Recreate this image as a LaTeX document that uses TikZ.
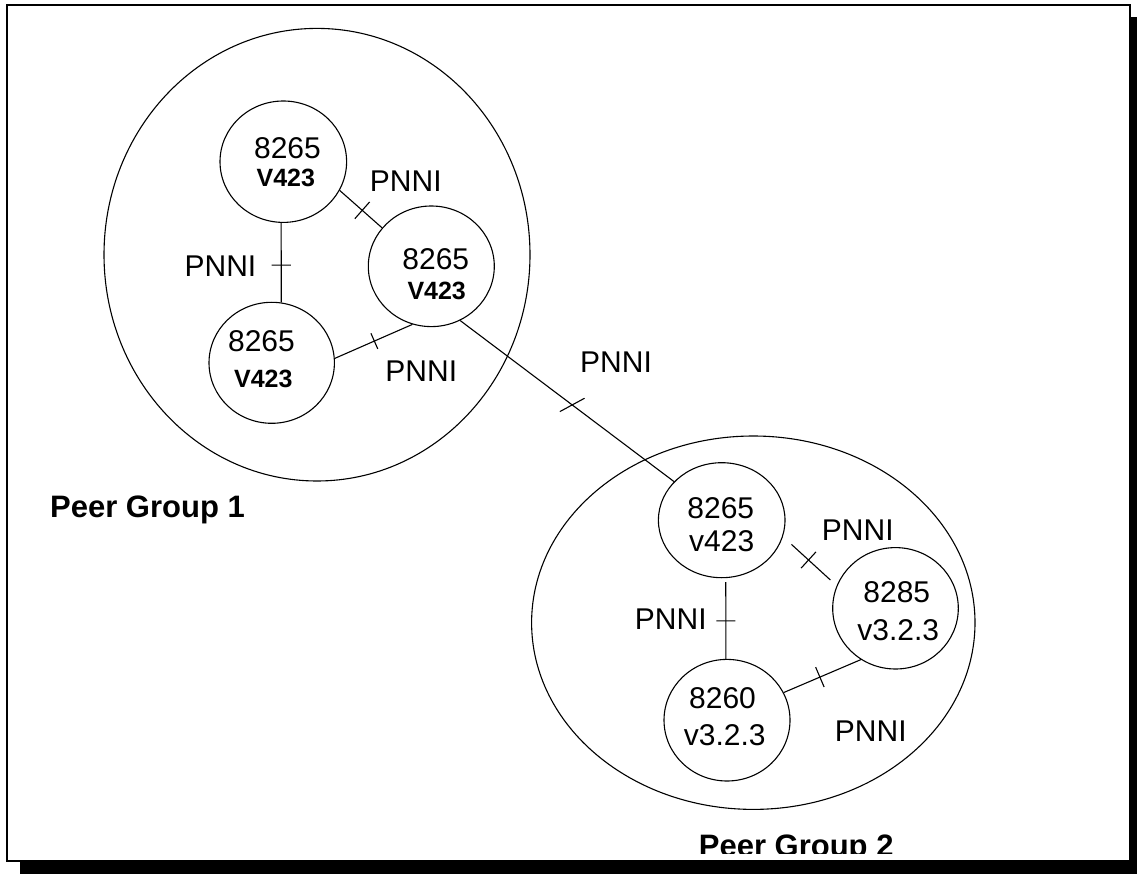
\documentclass[tikz,border=0pt]{standalone}
\usepackage{fontspec}
\setmainfont{Liberation Sans}
\usetikzlibrary{shapes.geometric,decorations.markings}
\newcommand\lblfont{\fontsize{30}{36}\selectfont}
\newcommand\verfont{\fontsize{25}{30}\selectfont\bfseries}
\newcommand\grpfont{\fontsize{31}{37}\selectfont\bfseries}
\tikzset{
  sw/.style 2 args={ellipse, draw, line width=1.1pt, inner sep=0pt, minimum width=#1, minimum height=#2},
  txt/.style={inner sep=0pt, anchor=base, font=\lblfont},
  ver/.style={inner sep=0pt, anchor=base, font=\verfont},
  grp/.style={inner sep=0pt, font=\grpfont},
  link/.style={line width=1.1pt},
  tk/.style 2 args={postaction={decorate,decoration={markings,mark=at position #1 with {\draw[line width=1.1pt,shorten <=0pt,shorten >=0pt] (0pt,-#2) -- (0pt,#2);}}}},
  tkskew/.style 2 args={postaction={decorate,decoration={markings,mark=at position #1 with {\draw[line width=1.1pt,shorten <=0pt,shorten >=0pt,rotate=-24.6] (0pt,-#2) -- (0pt,#2);}}}},
}
\begin{document}
\begin{tikzpicture}[x=1pt,y=-1pt]
\useasboundingbox (0,0) rectangle (1137,874);
% frame with shadow
\fill[black] (20,16.7) rectangle (1145,885);
\draw[line width=2.2pt, fill=white] (7,5) rectangle (1130,861);

% peer groups
\node[sw={426pt}{452.6pt}] (G1) at (317,254.7) {};
\node[sw={443.4pt}{373.4pt}] (G2) at (753.3,622.7) {};

% switches
\node[sw={126.6pt}{121.4pt}] (A) at (283.3,161.7) {};
\node[sw={126pt}{120.6pt}] (B) at (431.3,266.3) {};
\node[sw={125.4pt}{121pt}] (C) at (271.7,362.8) {};
\node[sw={126.6pt}{115pt}] (D) at (721.7,520.2) {};
\node[sw={125.6pt}{121.4pt}] (E) at (895.5,608.3) {};
\node[sw={126pt}{121.6pt}] (F) at (727,720.2) {};

% switch labels
\node[txt] (A1) at (287.5,158.3) {8265};
\node[ver] (A2) at (285.8,186.7) {V423};
\node[txt] (B1) at (435.8,269.3) {8265};
\node[ver] (B2) at (436.7,300) {V423};
\node[txt] (C1) at (261.5,351.7) {8265};
\node[ver] (C2) at (263.3,387.7) {V423};
\node[txt] (D1) at (720.8,518.3) {8265};
\node[txt] (D2) at (721.7,551.7) {v423};
\node[txt] (E1) at (896.8,602.7) {8285};
\node[txt] (E2) at (898.3,640) {v3.2.3};
\node[txt] (F1) at (722.5,708.3) {8260};
\node[txt] (F2) at (724.8,745) {v3.2.3};

% links
\draw[link, tk={0.531}{9.6pt}] (A.-92.2) -- (C.81.2);
\draw[link, tk={0.533}{11.2pt}] (A.-27.3) -- (B.142);
\draw[link, tk={0.51}{8.5pt}] (C.4.1) -- (B.-108.7);
\draw[link, tkskew={0.524}{14pt}] (B.-62.7) -- (D.141.9);
\draw[link, shorten <=4pt, tk={0.53}{9.5pt}] (D.-86) -- (F.91.2);
\draw[link, shorten <=11.5pt, shorten >=8.4pt, tk={0.477}{11pt}] (D.-15.8) -- (E.159.4);
\draw[link, tk={0.469}{10.8pt}] (F.26.9) -- (E.-124.9);

% link labels
\node[txt] (P1) at (405.8,191.7) {PNNI};
\node[txt] (P2) at (220.5,276.7) {PNNI};
\node[txt] (P3) at (421.3,381.7) {PNNI};
\node[txt] (P4) at (616,372.7) {PNNI};
\node[txt] (P5) at (857.8,540) {PNNI};
\node[txt] (P6) at (670.8,629.3) {PNNI};
\node[txt] (P7) at (870.8,741.7) {PNNI};

% group titles
\node[grp, anchor=base west] (T1) at (50,517.3) {Peer Group 1};
\begin{scope}
\clip (8,6) rectangle (1129,853.5);
\node[grp, anchor=base] (T2) at (796.2,856.3) {Peer Group 2};
\end{scope}
\end{tikzpicture}
\end{document}
